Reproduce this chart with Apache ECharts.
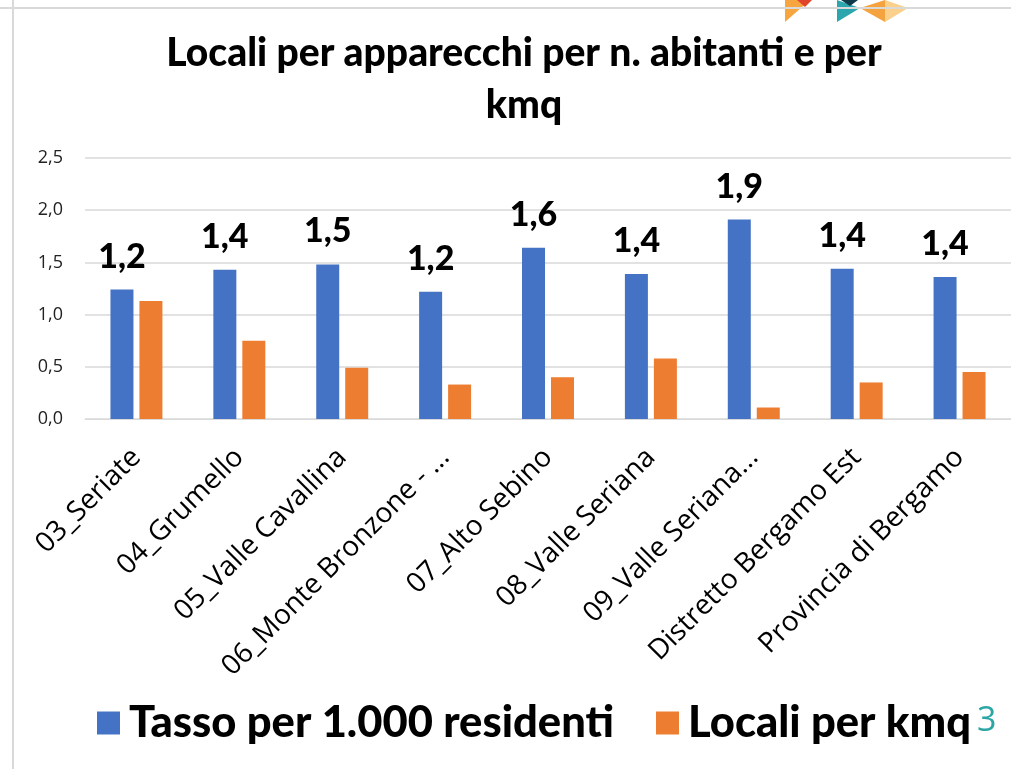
<!DOCTYPE html>
<html>
<head>
<meta charset="utf-8">
<script src="https://cdn.jsdelivr.net/npm/echarts@6/dist/echarts.min.js"></script>
<style>
  html, body { margin: 0; padding: 0; background: #fff; }
  #chart { width: 1011px; height: 769px; }
</style>
</head>
<body>
<div id="chart"></div>
<script>
// categorie (etichette come appaiono, già troncate)
const categorie = [
  "03_Seriate", "04_Grumello", "05_Valle Cavallina", "06_Monte Bronzone - ...",
  "07_Alto Sebino", "08_Valle Seriana", "09_Valle Seriana...",
  "Distretto Bergamo Est", "Provincia di Bergamo"
];
const tassoResidenti = [1.24, 1.43, 1.48, 1.22, 1.64, 1.39, 1.91, 1.44, 1.36];
const localiKmq = [1.13, 0.75, 0.49, 0.33, 0.40, 0.58, 0.11, 0.35, 0.45];
const yTicks = [0, 0.5, 1.0, 1.5, 2.0, 2.5];

const virgola = v => Number(v).toFixed(1).replace(".", ",");

const chart = echarts.init(document.getElementById("chart"));

chart.setOption({
  backgroundColor: "#fff",
  animation: false,
  textStyle: { fontFamily: "Lato, 'Open Sans', sans-serif" },
  title: {
    text: "Locali per apparecchi per n. abitanti e per\nkmq",
    left: 519,
    top: 22,
    textAlign: "center",
    textStyle: {
      fontFamily: "Lato, sans-serif",
      fontSize: 39,
      fontWeight: 900,
      color: "#000",
      lineHeight: 52
    }
  },
  legend: {
    bottom: 19,
    left: 92,
    itemWidth: 23,
    itemHeight: 23,
    itemGap: 42,
    icon: "rect",
    textStyle: {
      fontSize: 43.5, fontWeight: 900, color: "#000", fontFamily: "Lato, sans-serif",
      padding: [0, 0, 0, 4]
    }
  },
  grid: { left: 85, right: 0, top: 158, bottom: 350, containLabel: false },
  xAxis: {
    type: "category",
    data: categorie,
    axisLine: { show: true, lineStyle: { color: "#d9d9d9" } },
    axisTick: { show: false },
    axisLabel: {
      rotate: 45,
      interval: 0,
      margin: 34,
      fontSize: 28,
      color: "#000",
      fontFamily: "'Open Sans', sans-serif"
    }
  },
  yAxis: {
    type: "value",
    min: yTicks[0],
    max: yTicks[yTicks.length - 1],
    interval: 0.5,
    axisLine: { show: false },
    axisTick: { show: false },
    splitLine: { lineStyle: { color: "#d9d9d9", width: 1.5 } },
    axisLabel: {
      margin: 22,
      fontSize: 18,
      color: "#222",
      fontFamily: "'Open Sans', sans-serif",
      formatter: virgola
    }
  },
  series: [
    {
      name: "Tasso per 1.000 residenti",
      type: "bar",
      data: tassoResidenti,
      barWidth: 23,
      barGap: "26%",
      itemStyle: { color: "#4472C4" },
      label: {
        show: true,
        position: "top",
        distance: 16,
        fontSize: 34,
        fontWeight: 900,
        color: "#000",
        fontFamily: "Lato, sans-serif",
        formatter: p => virgola(p.value)
      }
    },
    {
      name: "Locali per kmq",
      type: "bar",
      data: localiKmq,
      barWidth: 23,
      itemStyle: { color: "#ED7D31" }
    }
  ],
  graphic: [
    // cornice della slide
    { type: "line", shape: { x1: 13, y1: 0, x2: 13, y2: 769 }, style: { stroke: "#d9d9d9", lineWidth: 2 } },
    { type: "line", shape: { x1: 0, y1: 8, x2: 1011, y2: 8 }, style: { stroke: "#d9d9d9", lineWidth: 2 }, z: 10 },
    // decorazione triangoli
    { type: "polygon", shape: { points: [[785, 0], [810, 0], [785, 22]] }, style: { fill: "#F6A53F" } },
    { type: "polygon", shape: { points: [[797, 0], [812, 0], [805, 7]] }, style: { fill: "#E0452A" } },
    { type: "polygon", shape: { points: [[837, 0], [860, 8], [837, 22]] }, style: { fill: "#2BA6AE" } },
    { type: "polygon", shape: { points: [[841, 0], [858, 0], [850, 6]] }, style: { fill: "#0E3A4A" } },
    { type: "polygon", shape: { points: [[860, 8], [885, 0], [885, 22]] }, style: { fill: "#F5A33E" } },
    { type: "polygon", shape: { points: [[885, 0], [908, 8], [885, 22]] }, style: { fill: "#FBD08B" } },
    // numero pagina
    {
      type: "text", left: 977, top: 704,
      style: { text: "3", fontSize: 34, fill: "#2CA5A5", fontFamily: "'Open Sans', sans-serif" }
    }
  ]
});
</script>
</body>
</html>
